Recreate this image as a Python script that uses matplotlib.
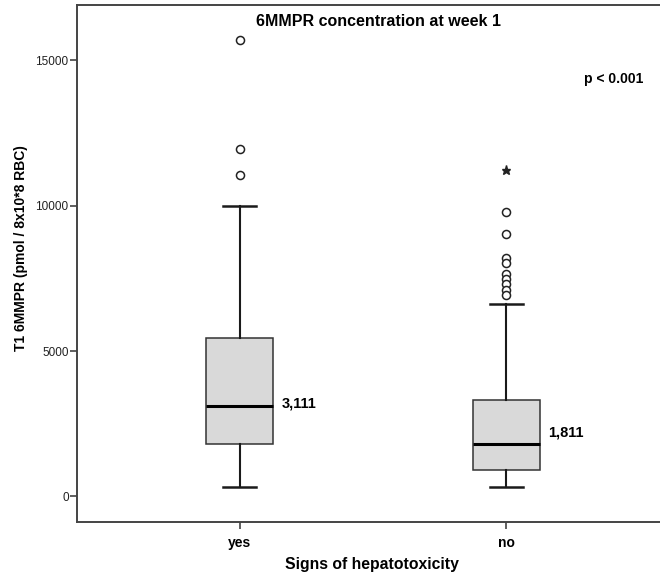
import matplotlib
matplotlib.use("Agg")
import matplotlib.pyplot as plt

plt.rcParams['font.family'] = ['Liberation Sans', 'DejaVu Sans']

categories = ["yes", "no"]
medians = [3111, 1811]
q1 = [1800, 905]
q3 = [5450, 3330]
whisker_low = [310, 310]
whisker_high = [10000, 6610]
outliers = [
    [15700, 11960, 11060],
    [9780, 9030, 8200, 8030, 7660, 7480, 7300, 7110, 6940],
]
extremes = [[], [11240]]
yticks = [0, 5000, 10000, 15000]

W, H = 660, 576
fig = plt.figure(figsize=(W / 100, H / 100), dpi=100)
ax = fig.add_axes([77 / W, 54 / H, 592 / W, 517 / H])

positions = [1, 2]
stats = []
for i, name in enumerate(categories):
    stats.append(dict(label=name, med=medians[i], q1=q1[i], q3=q3[i],
                      whislo=whisker_low[i], whishi=whisker_high[i], fliers=[]))

edge = "#1a1a1a"
ax.bxp(stats, positions=positions, widths=0.252, patch_artist=True,
       showfliers=False,
       boxprops=dict(facecolor="#d9d9d9", edgecolor="#333333", linewidth=1.1),
       medianprops=dict(color="black", linewidth=2.2),
       whiskerprops=dict(color=edge, linewidth=1.5),
       capprops=dict(color=edge, linewidth=1.8),
       capwidths=0.125)

for pos, vals in zip(positions, outliers):
    ax.plot([pos] * len(vals), vals, linestyle="none", marker="o",
            markersize=5.8, markerfacecolor="white", markeredgecolor="#222222",
            markeredgewidth=1.1, zorder=3)
for pos, vals in zip(positions, extremes):
    if vals:
        ax.plot([pos] * len(vals), vals, linestyle="none", marker="*",
                markersize=6.5, color="#222222", zorder=3)

# median value labels beside each box
label_offsets = [2, 8]
for pos, med, dy in zip(positions, medians, label_offsets):
    ax.annotate(f"{med:,}", xy=(pos + 0.126, med), xytext=(6, dy),
                textcoords="offset points", ha="left", va="center",
                fontsize=10.5, fontweight="bold")

ax.set_xlim(0.391, 2.609)
ax.set_ylim(-880, 16900)
ax.set_yticks(yticks)
ax.set_yticklabels([str(v) for v in yticks])
ax.set_xticks(positions)
ax.set_xticklabels(categories, fontweight="bold")

for side in ["left", "bottom", "top", "right"]:
    ax.spines[side].set_color("#444444")
    ax.spines[side].set_linewidth(1.4)

ax.tick_params(axis="y", direction="out", length=5, width=1.2, color="#444444",
               labelsize=8.5, labelcolor="#222222", pad=1)
ax.tick_params(axis="x", direction="out", length=5, width=1.2, color="#444444",
               labelsize=10, pad=5)

ax.text(0.51, 0.968, "6MMPR concentration at week 1", transform=ax.transAxes,
        ha="center", va="center", fontsize=11.5, fontweight="bold")
ax.text(0.956, 0.857, "p < 0.001", transform=ax.transAxes,
        ha="right", va="center", fontsize=10, fontweight="bold")

fig.text(21 / W, 1 - 248 / H, "T1 6MMPR (pmol / 8x10*8 RBC)", rotation=90,
         ha="center", va="center", fontsize=10, fontweight="bold")
fig.text(372 / W, 1 - 565 / H, "Signs of hepatotoxicity",
         ha="center", va="center", fontsize=11.3, fontweight="bold")

fig.savefig("out.png", dpi=100)
